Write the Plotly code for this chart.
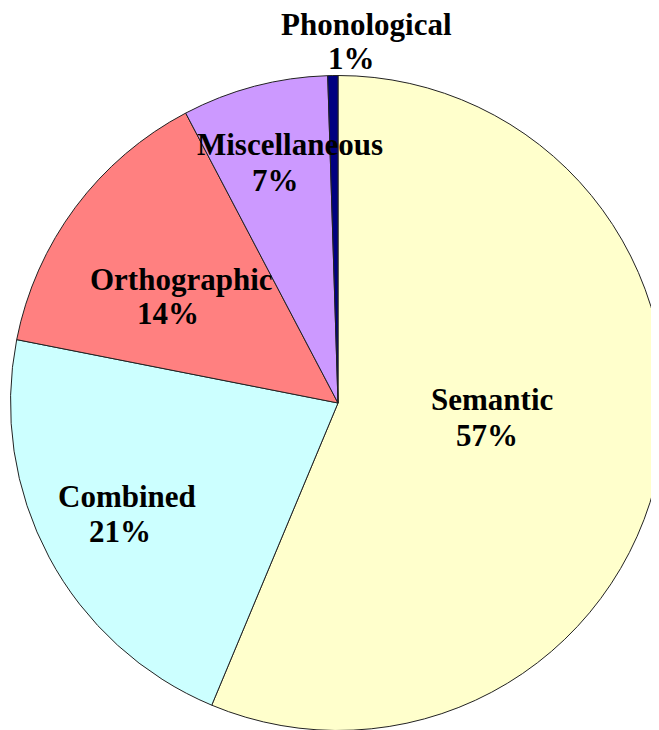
import plotly.graph_objects as go

labels = ["Semantic", "Combined", "Orthographic", "Miscellaneous", "Phonological"]
# slice sizes as drawn
values = [56.3, 21.8, 14.2, 7.2, 0.5]
# percentages as printed on the chart
percent_text = [57, 21, 14, 7, 1]
colors = ["#FFFFCC", "#CCFFFF", "#FF8080", "#CC99FF", "#000080"]
# label line centers in figure pixels (x, y from top)
name_pos = [(484, 391), (119, 488), (173, 271), (282, 137), (359, 17)]
pct_pos = [(479, 427), (112, 523), (160, 305), (267, 172), (343, 51)]

W, H = 659, 730
cx, cy, r = 330, 395, 327.5

fig = go.Figure(go.Pie(
    labels=labels, values=values, sort=False, direction="clockwise", rotation=0,
    marker=dict(colors=colors, line=dict(color="#222222", width=1)),
    textinfo="none", hoverinfo="label", showlegend=False,
    domain=dict(x=[(cx - r) / W, (cx + r) / W], y=[1 - (cy + r) / H, 1 - (cy - r) / H]),
))

font = dict(family="Liberation Serif", size=31, color="black")
for lab, p, (nx, ny), (qx, qy) in zip(labels, percent_text, name_pos, pct_pos):
    fig.add_annotation(x=nx / W, y=1 - ny / H, xref="paper", yref="paper",
                       text=f"<b>{lab}</b>", showarrow=False, borderpad=0,
                       xanchor="center", yanchor="middle", font=font)
    fig.add_annotation(x=qx / W, y=1 - qy / H, xref="paper", yref="paper",
                       text=f"<b>{p}%</b>", showarrow=False, borderpad=0,
                       xanchor="center", yanchor="middle", font=font)

fig.update_layout(
    width=W, height=H, margin=dict(l=0, r=0, t=0, b=0),
    paper_bgcolor="white", plot_bgcolor="white",
)
fig.write_html("out.html")
